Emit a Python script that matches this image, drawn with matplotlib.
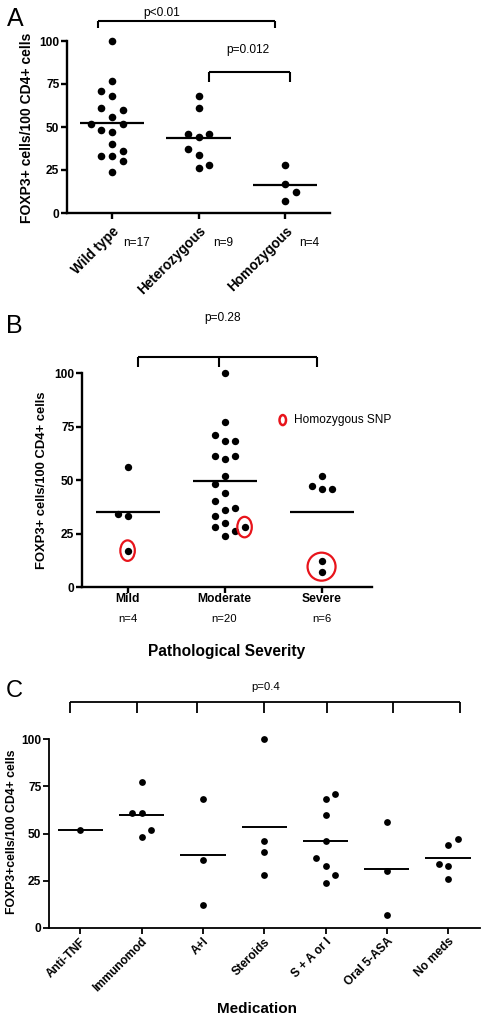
import numpy as np
import matplotlib
matplotlib.use('Agg')
import matplotlib.pyplot as plt
from matplotlib.patches import Ellipse
from matplotlib.transforms import ScaledTranslation

plt.rcParams['font.family'] = ['Liberation Sans', 'DejaVu Sans']

# ---------------- data ----------------
# Panel A
genotype_labels = ['Wild type', 'Heterozygous', 'Homozygous']
genotype_n = ['n=17', 'n=9', 'n=4']
wild_type = [100, 77, 71, 68, 61, 60, 56, 52, 52, 48, 47, 40, 36, 33, 33, 30, 24]
heterozygous = [68, 61, 46, 44, 46, 37, 34, 28, 26]
homozygous = [28, 17, 12, 7]
pA_labels = ['p<0.01', 'p=0.012']

# Panel B
severity_labels = ['Mild', 'Moderate', 'Severe']
severity_n = ['n=4', 'n=20', 'n=6']
mild = [56, 34, 33, 17]
moderate = [100, 77, 71, 68, 68, 61, 60, 61, 52, 48, 44, 40, 36, 37, 33, 30, 28, 24, 26, 28]
severe = [52, 47, 46, 46, 12, 7]
mild_homozygous = [False, False, False, True]
moderate_homozygous = [False] * 19 + [True]
severe_homozygous = [False, False, False, False, True, True]
pB_label = 'p=0.28'
legend_label = 'Homozygous SNP'

# Panel C
med_labels = ['Anti-TNF', 'Immunomod', 'A+I', 'Steroids', 'S + A or I', 'Oral 5-ASA', 'No meds']
anti_tnf = [52]
immunomod = [77, 61, 61, 52, 48]
a_plus_i = [68, 36, 12]
steroids = [100, 46, 40, 28]
s_a_or_i = [71, 68, 60, 46, 37, 33, 28, 24]
oral_5asa = [56, 30, 7]
no_meds = [47, 44, 34, 33, 26]
pC_label = 'p=0.4'

# ---------------- layout (scatter slots, not data) ----------------
wild_type_slot = [0, 0, -1, 0, -1, 1, 0, -2, 1, -1, 0, 0, 1, -1, 0, 1, 0]
heterozygous_slot = [0, 0, -1, 0, 1, -1, 0, 1, 0]
homozygous_slot = [0, 0, 1, 0]
mild_slot = [0, -1, 0, 0]
moderate_slot = [0, 0, -1, 0, 1, -1, 0, 1, 0, -1, 0, -1, 0, 1, -1, 0, -1, 0, 1, 2]
severe_slot = [0, -1, 0, 1, 0, 0]
med_slots = [[0], [0, -1, 0, 1, 0], [0, 0, 0], [0, 0, 0, 0],
             [1, 0, 0, 0, -1, 0, 1, 0], [0, 0, 0], [1, 0, -1, 0, 0]]

W, H = 487, 1022
fig = plt.figure(figsize=(W / 100, H / 100), dpi=100)


def axes_px(left, right, top, bottom):
    return fig.add_axes([left / W, 1 - bottom / H, (right - left) / W, (bottom - top) / H])


def style_axes(ax, lw, xlim):
    for s in ['top', 'right']:
        ax.spines[s].set_visible(False)
    for s in ['left', 'bottom']:
        ax.spines[s].set_linewidth(lw)
    ax.set_ylim(0, 100)
    ax.set_xlim(*xlim)
    ax.set_yticks([0, 25, 50, 75, 100])
    ax.set_yticklabels(['0', '25', '50', '75', '100'], fontweight='bold', fontsize=8.6)
    ax.tick_params(axis='both', direction='out', length=4, width=lw, pad=1.5)
    ax.patch.set_alpha(0)


def column_scatter(ax, groups, slots, slot_w, hw, ms, lw=1.6):
    for i, (vals, sl) in enumerate(zip(groups, slots)):
        x = i + np.array(sl) * slot_w
        ax.scatter(x, vals, s=ms, color='black', zorder=3, clip_on=False, linewidths=0)
        ax.hlines(np.mean(vals), i - hw, i + hw, color='black', lw=lw, zorder=2)


def bracket(ax, xs, y_top, y_bot, lw=1.5):
    ax.plot([xs[0], xs[-1]], [y_top, y_top], color='black', lw=lw, clip_on=False,
            solid_capstyle='butt')
    for x in xs:
        ax.plot([x, x], [y_top, y_bot], color='black', lw=lw, clip_on=False,
                solid_capstyle='butt')


# ---------------- Panel A ----------------
axA = axes_px(67, 330, 41, 213)
style_axes(axA, 1.7, (-0.52, 2.52))
column_scatter(axA, [wild_type, heterozygous, homozygous],
               [wild_type_slot, heterozygous_slot, homozygous_slot], 0.124, 0.37, 30)
axA.set_xticks(range(len(genotype_labels)))
axA.set_xticklabels(genotype_labels, rotation=45, ha='right', va='top',
                    rotation_mode='anchor', fontweight='bold', fontsize=9.8)
axA.tick_params(axis='x', pad=4)
for i, t in enumerate(genotype_n):
    axA.text(i + 0.28, -0.175, t, transform=axA.get_xaxis_transform(),
             ha='center', va='center', fontsize=8.6)
axA.set_ylabel('FOXP3+ cells/100 CD4+ cells', fontweight='bold', fontsize=10)
axA.yaxis.set_label_coords(-0.127, 0.497)
bracket(axA, [-0.16, 1.88], 111.6, 107.4)
axA.text(0.57, 116.5, pA_labels[0], ha='center', va='center', fontsize=8.6)
bracket(axA, [1.12, 2.06], 82, 76)
axA.text(1.57, 94.8, pA_labels[1], ha='center', va='center', fontsize=8.6)
fig.text(15 / W, 1 - 19 / H, 'A', fontsize=18, ha='center', va='center')

# ---------------- Panel B ----------------
axB = axes_px(82, 372, 373, 587)
style_axes(axB, 1.7, (-0.47, 2.52))
groupsB = [mild, moderate, severe]
slotsB = [mild_slot, moderate_slot, severe_slot]
slotB_w = 0.103
column_scatter(axB, groupsB, slotsB, slotB_w, 0.33, 28)
axB.set_xticks(range(len(severity_labels)))
axB.set_xticklabels([])
for i, t in enumerate(severity_labels):
    axB.text(i, -0.058, t, transform=axB.get_xaxis_transform(),
             ha='center', va='center', fontweight='bold', fontsize=8.7)
for i, t in enumerate(severity_n):
    axB.text(i, -0.148, t, transform=axB.get_xaxis_transform(),
             ha='center', va='center', fontsize=8.2)
axB.text(0.497, -0.30, 'Pathological Severity', transform=axB.transAxes,
         ha='center', va='center', fontweight='bold', fontsize=11.2)
axB.set_ylabel('FOXP3+ cells/100 CD4+ cells', fontweight='bold', fontsize=9.4)
axB.yaxis.set_label_coords(-0.116, 0.5)
bracket(axB, [0.11, 0.94, 1.95], 107.5, 102.6)
axB.text(0.98, 125.7, pB_label, ha='center', va='center', fontsize=8.6)
fig.text(14 / W, 1 - 326 / H, 'B', fontsize=18, ha='center', va='center')


def red_ellipse(ax, x, y, w_in, h_in, lw=1.6):
    tr = fig.dpi_scale_trans + ScaledTranslation(x, y, ax.transData)
    ax.add_patch(Ellipse((0, 0), w_in, h_in, transform=tr, fill=False,
                         edgecolor='#e8141b', lw=lw, clip_on=False, zorder=4))


# homozygous SNP circles
for i, (vals, sl, flags) in enumerate(zip(groupsB, slotsB,
                                          [mild_homozygous, moderate_homozygous, severe_homozygous])):
    idx = [k for k, f in enumerate(flags) if f]
    xs = [i + sl[k] * slotB_w for k in idx]
    ys = [vals[k] for k in idx]
    if len(idx) == 1:
        red_ellipse(axB, xs[0], ys[0], 0.145, 0.205)
    else:
        red_ellipse(axB, np.mean(xs), np.mean(ys), 0.28, 0.28)

# legend
red_ellipse(axB, 1.6, 78, 0.065, 0.1, lw=1.8)
axB.text(1.72, 78, legend_label, ha='left', va='center', fontsize=8.6)

# ---------------- Panel C ----------------
axC = axes_px(49, 480, 739, 928)
style_axes(axC, 1.3, (-0.51, 6.52))
medC = [anti_tnf, immunomod, a_plus_i, steroids, s_a_or_i, oral_5asa, no_meds]
column_scatter(axC, medC, med_slots, 0.155, 0.37, 24, lw=1.4)
axC.set_xticks(range(len(med_labels)))
axC.set_xticklabels(med_labels, rotation=45, ha='right', va='top',
                    rotation_mode='anchor', fontweight='bold', fontsize=8.6)
axC.set_ylabel('FOXP3+cells/100 CD4+ cells', fontweight='bold', fontsize=8.8)
axC.yaxis.set_label_coords(-0.071, 0.508)
axC.text(0.483, -0.43, 'Medication', transform=axC.transAxes,
         ha='center', va='center', fontweight='bold', fontsize=11)
bracket(axC, [-0.16, 0.92, 1.91, 2.99, 4.02, 5.1, 6.19], 119.6, 113.6, lw=1.3)
axC.text(3.02, 127.5, pC_label, ha='center', va='center', fontsize=8.2)
fig.text(14 / W, 1 - 691 / H, 'C', fontsize=17, ha='center', va='center')

fig.savefig('out.png', dpi=100)
